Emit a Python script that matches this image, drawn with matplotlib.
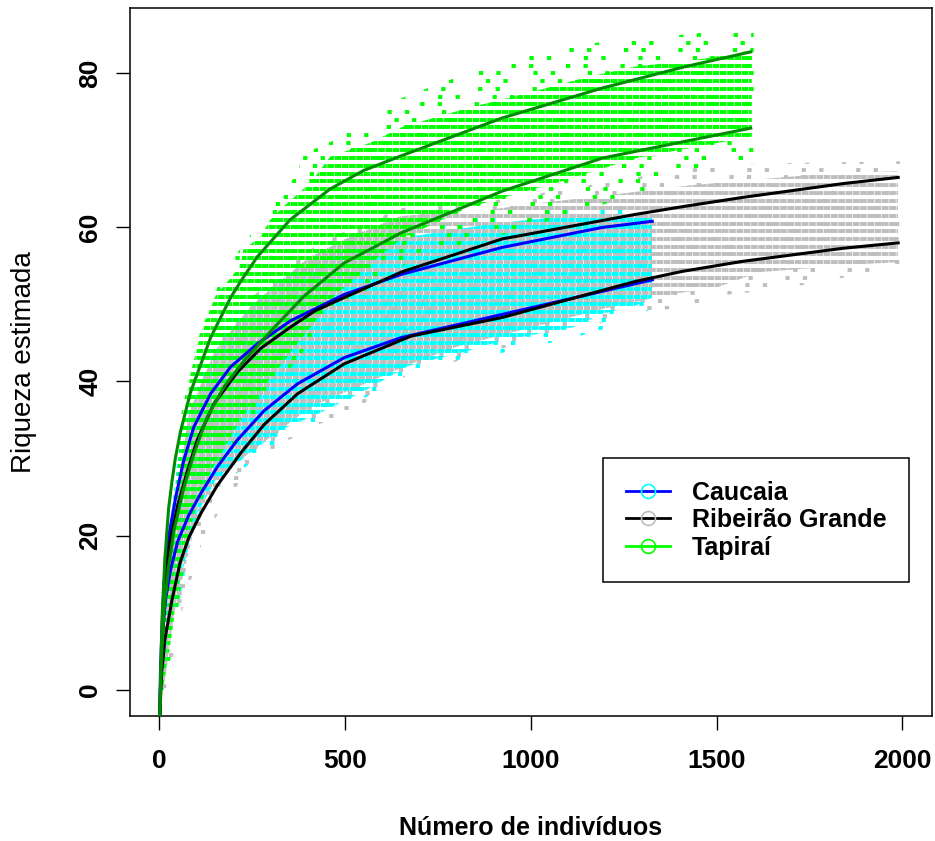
import matplotlib
matplotlib.use('Agg')

import numpy as np
import matplotlib.pyplot as plt
from matplotlib.patches import Polygon
from matplotlib.lines import Line2D

plt.rcParams['font.family'] = ['Liberation Sans', 'DejaVu Sans']

# ---- curves (individuals, richness) ----
tap_up_x = [1, 4, 8, 15, 25, 34, 43, 57, 84, 138, 192, 219, 264, 352, 460, 550, 651, 922, 1192, 1417, 1592]
tap_up_y = [-4, 3, 10, 17, 23.5, 27, 30, 33.5, 38.6, 45.7, 50.9, 53.0, 56.2, 61.0, 65.0, 67.4, 69.3, 74.2, 78.1, 80.9, 82.8]
tap_lo_x = [1, 5, 12, 25, 40, 66, 93, 129, 174, 228, 309, 390, 498, 651, 922, 1192, 1417, 1592]
tap_lo_y = [-4, 3, 10, 16, 20.8, 26.2, 30.6, 35.4, 39.3, 42.7, 47.0, 51.1, 55.4, 59.3, 64.7, 69.0, 71.2, 72.9]

cau_up_x = [1, 3, 7, 13, 22, 45, 66, 93, 138, 192, 264, 354, 498, 651, 922, 1192, 1327]
cau_up_y = [-4, 2, 8, 14, 19, 25.2, 29.8, 34.1, 38.4, 41.9, 44.9, 47.9, 51.3, 53.9, 57.4, 60.0, 60.8]
cau_lo_x = [1, 4, 10, 18, 30, 50, 79, 111, 156, 210, 282, 372, 498, 651, 922, 1192, 1327]
cau_lo_y = [-4, 2, 8, 12, 15.5, 19.3, 22.6, 25.4, 28.9, 32.4, 36.2, 39.7, 43.1, 45.7, 48.7, 51.7, 53.2]

rib_up_x = [1, 4, 9, 16, 28, 50, 75, 102, 147, 210, 273, 354, 420, 498, 651, 922, 1282, 1408, 1570, 1841, 1989]
rib_up_y = [-4, 2, 8, 14, 19, 24, 28.3, 32.4, 37.1, 41.2, 44.3, 47.1, 49.2, 50.9, 54.2, 58.5, 61.7, 62.7, 63.9, 65.7, 66.5]
rib_lo_x = [1, 6, 15, 34, 56, 80, 111, 156, 219, 282, 372, 498, 678, 922, 1282, 1408, 1570, 1841, 1989]
rib_lo_y = [-4, 2, 6.5, 11.6, 16.5, 19.8, 22.8, 26.5, 30.7, 34.4, 38.4, 42.3, 45.9, 48.3, 53.0, 54.3, 55.6, 57.3, 58.0]

# ---- outline of each cloud of permutation points (individuals, richness) ----
# dense core
tap_cloud = [(3, 0), (12, 10), (25, 18), (38, 22.4), (57, 32.8), (84, 41), (110, 46), (150, 51),
             (218, 55), (226, 57.1), (272, 58.8), (299, 61), (334, 62.7), (407, 65.8), (460, 69.2),
             (568, 71), (651, 73), (830, 75.5), (1011, 77.7), (1150, 79.5), (1282, 80.9),
             (1450, 81.8), (1595, 83), (1595, 71.8), (1282, 69.0), (1084, 66), (832, 62.6),
             (651, 58.5), (560, 55), (470, 51), (390, 46), (300, 40.5), (219, 35), (146, 29),
             (102, 24.6), (60, 16), (30, 6), (10, 0)]
cau_cloud = [(5, 0), (25, 20), (60, 34), (120, 43), (200, 49), (300, 53), (500, 57), (700, 59),
             (900, 60.5), (1100, 61.5), (1327, 61.5), (1327, 50.9), (1280, 49.8), (1192, 48.8),
             (1119, 47.1), (922, 45.3), (832, 44), (670, 42), (553, 38.8), (427, 35.8),
             (327, 33.7), (219, 29.8), (156, 27.6), (102, 22.9), (60, 15), (30, 8), (10, 0)]
rib_cloud = [(8, 0), (35, 22), (80, 36), (150, 44), (250, 50), (400, 56), (500, 58.5), (651, 61.5),
             (876, 62.2), (993, 63), (1173, 64), (1435, 65.5), (1795, 67), (1989, 67.3),
             (1989, 55.5), (1913, 55.3), (1615, 54.2), (1500, 52.2), (1400, 51.5), (1200, 49.5),
             (1000, 47), (800, 44.5), (678, 42.3), (553, 39.7), (408, 36.7), (300, 32.8),
             (192, 28.9), (138, 25.5), (102, 22.4), (40, 10), (12, 0)]
# scattered outer points
tap_fringe = [(3, 0), (12, 12), (30, 24), (60, 36), (100, 45), (170, 54), (313, 63.5), (372, 67),
              (385, 69.5), (479, 71.5), (514, 72.5), (595, 74.5), (635, 76.5), (828, 80),
              (944, 82), (1178, 84), (1510, 85.5), (1600, 85.5), (1600, 69.5), (1563, 68.5),
              (1335, 66.5), (1313, 64.5), (1141, 62.3), (1025, 60.5), (900, 58.7), (702, 56.6),
              (600, 53), (470, 49), (390, 44), (300, 38.5), (219, 33), (146, 27.5), (102, 23),
              (60, 14), (30, 4), (10, 0)]
cau_fringe = [(5, 0), (25, 21), (60, 35), (120, 44), (200, 50), (300, 54), (500, 58), (700, 60),
              (900, 61.5), (1100, 62.3), (1327, 62.3), (1327, 49.5), (1250, 47.5), (1100, 45.5),
              (900, 43.5), (720, 42.2), (550, 37.8), (420, 34.5), (320, 32), (220, 28.5),
              (150, 26), (100, 21.5), (60, 13), (30, 5), (12, 0)]
rib_fringe = [(8, 0), (35, 23), (80, 37), (150, 45), (250, 51), (400, 57), (500, 59.5), (651, 62.5),
              (900, 63.5), (1100, 65), (1366, 67.2), (1492, 68.2), (1995, 68.6), (1995, 54.5),
              (1900, 54), (1672, 52), (1475, 51), (1443, 49.8), (1300, 49), (1100, 46.5),
              (900, 44), (667, 40.8), (514, 36), (406, 34), (264, 30), (192, 25.3), (120, 20),
              (60, 10), (20, 0)]

# richness values reached by each site (points sit on whole species counts)
tap_rich = (0, 85)
cau_rich = (0, 62)
rib_rich = (0, 68)

labels = ['Caucaia', 'Ribeirão Grande', 'Tapiraí']

fig = plt.figure(figsize=(9.35, 8.41), dpi=100)
ax = fig.add_axes([0.139, 0.1486, 0.8578, 0.8419])


def draw_rows(verts, rich, color, offset, dense):
    xs = [v[0] for v in verts]
    levels = np.arange(rich[0], rich[1] + 1) + offset
    if dense:
        styles = [(0, (1.7, 0.17))]
    else:
        # sparse, staggered marks for the thin edge of the cloud
        styles = [((k * 3.7 + (k * k % 5) * 1.9) % 14.0, (1.1, 3.4, 1.1, 8.4))
                  for k in range(len(levels))]
    rows = ax.hlines(levels, min(xs), max(xs), colors=color, linewidth=2.8,
                     linestyles=styles, zorder=1)
    rows.set_clip_path(Polygon(verts, closed=True, transform=ax.transData))


for fringe, core, rich, color, off in [
        (rib_fringe, rib_cloud, rib_rich, '#BEBEBE', 0.5),
        (cau_fringe, cau_cloud, cau_rich, '#00FFFF', 0.0),
        (tap_fringe, tap_cloud, tap_rich, '#00FF00', 0.0)]:
    draw_rows(fringe, rich, color, off, dense=False)
    draw_rows(core, rich, color, off, dense=True)

ax.plot(cau_up_x, cau_up_y, color='#0000FF', lw=2.2, zorder=3)
ax.plot(cau_lo_x, cau_lo_y, color='#0000FF', lw=2.2, zorder=3)
ax.plot(rib_up_x, rib_up_y, color='black', lw=2.2, zorder=3)
ax.plot(rib_lo_x, rib_lo_y, color='black', lw=2.2, zorder=3)
ax.plot(tap_up_x, tap_up_y, color='#008B00', lw=2.2, zorder=3)
ax.plot(tap_lo_x, tap_lo_y, color='#008B00', lw=2.2, zorder=3)

ax.set_xlim(-79, 2080)
ax.set_ylim(-3.44, 88.5)
ax.set_xticks([0, 500, 1000, 1500, 2000])
ax.set_yticks([0, 20, 40, 60, 80])
ax.tick_params(axis='both', length=10, width=1, labelsize=19, direction='out')
ax.tick_params(axis='x', pad=14)
ax.tick_params(axis='y', pad=10)
for lab in ax.get_xticklabels() + ax.get_yticklabels():
    lab.set_fontweight('bold')
for lab in ax.get_yticklabels():
    lab.set_rotation(90)
    lab.set_va('center')
for sp in ax.spines.values():
    sp.set_linewidth(1.1)

ax.set_xlabel('Número de indivíduos', fontsize=18, fontweight='bold', va='center')
ax.xaxis.set_label_coords(0.5, -0.158)
ax.set_ylabel('Riqueza estimada', fontsize=20, va='center')
ax.yaxis.set_label_coords(-0.132, 0.5)

handles = [
    Line2D([], [], color='#0000FF', lw=2, marker='o', ms=10, mfc='none', mec='#00FFFF', mew=1.2),
    Line2D([], [], color='black', lw=2, marker='o', ms=10, mfc='none', mec='#BEBEBE', mew=1.2),
    Line2D([], [], color='#00FF00', lw=2, marker='o', ms=10, mfc='none', mec='#00FF00', mew=1.2),
]
leg = ax.legend(handles, labels, loc='upper left', bbox_to_anchor=(0.5898, 0.3644),
                borderaxespad=0, fancybox=False, edgecolor='black', framealpha=1,
                borderpad=0.9, handlelength=1.76, handletextpad=0.9, labelspacing=0.14,
                prop={'weight': 'bold', 'size': 18, 'family': 'Liberation Sans'})
leg.get_frame().set_linewidth(1.1)

fig.savefig('out.png', dpi=100)
